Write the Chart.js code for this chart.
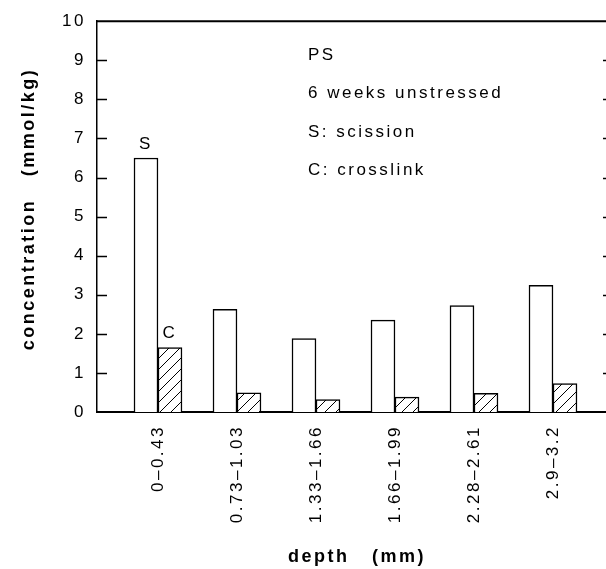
<!DOCTYPE html>
<html>
<head>
<meta charset="utf-8">
<script src="https://cdn.jsdelivr.net/npm/chart.js@4.4.0/dist/chart.umd.min.js"></script>
<style>
  html, body { margin: 0; padding: 0; background: #fff; }
</style>
</head>
<body>
<canvas id="chart" width="606" height="569"></canvas>
<script>
// depth bins (mm) and concentrations (mmol/kg)
const depthLabels = ['0\u20130.43', '0.73\u20131.03', '1.33\u20131.66', '1.66\u20131.99', '2.28\u20132.61', '2.9\u20133.2'];
const scission = [6.5, 2.63, 1.88, 2.35, 2.72, 3.24];
const crosslink = [1.65, 0.49, 0.32, 0.38, 0.48, 0.73];
const notes = ['PS', '6 weeks unstressed', 'S: scission', 'C: crosslink'];

const FONT = '"Liberation Sans", Arial, Helvetica, sans-serif';

function hatch() {
    const c = document.createElement('canvas');
    c.width = 11;
    c.height = 11;
    const g = c.getContext('2d');
    g.fillStyle = '#fff';
    g.fillRect(0, 0, 11, 11);
    g.strokeStyle = '#000';
    g.lineWidth = 1;
    g.beginPath();
    g.moveTo(0, 11); g.lineTo(11, 0);
    g.moveTo(-1, 1); g.lineTo(1, -1);
    g.moveTo(10, 12); g.lineTo(12, 10);
    g.stroke();
    return g.createPattern(c, 'repeat');
}

// the old plot uses wide letter spacing everywhere
const spacing = {
    id: 'spacing',
    beforeLayout(chart) { chart.ctx.letterSpacing = '2.5px'; },
    beforeDraw(chart) { chart.ctx.letterSpacing = '2.5px'; }
};

const frame = {
    id: 'frame',
    afterDraw(chart) {
        const { ctx, chartArea: a, scales: { x, y } } = chart;
        ctx.save();
        ctx.strokeStyle = '#000';
        ctx.lineWidth = 2;
        ctx.beginPath();
        ctx.moveTo(a.left, a.top);
        ctx.lineTo(a.right, a.top);
        ctx.stroke();

        // inward ticks on left, stubs on right
        ctx.lineWidth = 1.5;
        y.ticks.forEach(t => {
            if (t.value === 0 || t.value === 10) return;
            const py = Math.round(y.getPixelForValue(t.value)) + 0.5;
            ctx.beginPath();
            ctx.moveTo(a.left, py); ctx.lineTo(a.left + 10, py);
            ctx.moveTo(a.right - 3, py); ctx.lineTo(a.right, py);
            ctx.stroke();
        });

        ctx.fillStyle = '#000';
        ctx.letterSpacing = '2.5px';
        ctx.font = '17px ' + FONT;
        ctx.textBaseline = 'middle';
        ctx.textAlign = 'left';
        notes.forEach((n, i) => ctx.fillText(n, 308, 55 + i * 38.5));

        ctx.textAlign = 'center';
        ctx.fillText('S', x.getPixelForValue(1) - 12, y.getPixelForValue(scission[0]) - 14);
        ctx.fillText('C', x.getPixelForValue(1) + 12, y.getPixelForValue(crosslink[0]) - 14);

        ctx.font = 'bold 18px ' + FONT;
        ctx.letterSpacing = '2.5px';
        ctx.fillText('depth   (mm)', 357, 557);
        ctx.translate(29, 209);
        ctx.rotate(-Math.PI / 2);
        ctx.fillText('concentration   (mmol/kg)', 0, 0);
        ctx.restore();
    }
};

const ctx = document.getElementById('chart').getContext('2d');
const chart = new Chart(ctx, {
    type: 'bar',
    data: {
        datasets: [
            {
                label: 'S',
                data: scission.map((v, i) => ({ x: i + 1, y: v })),
                backgroundColor: '#fff',
                borderColor: '#000',
                borderWidth: 1.5,
                barThickness: 24
            },
            {
                label: 'C',
                data: crosslink.map((v, i) => ({ x: i + 1, y: v })),
                backgroundColor: hatch(),
                borderColor: '#000',
                borderWidth: 1.5,
                barThickness: 24
            }
        ]
    },
    options: {
        responsive: false,
        animation: false,
        layout: { padding: { top: 19, left: 0, right: 0, bottom: 0 } },
        plugins: { legend: { display: false }, tooltip: { enabled: false } },
        scales: {
            x: {
                type: 'linear',
                offset: false,
                min: 0.228,
                max: 6.671,
                afterBuildTicks: s => { s.ticks = depthLabels.map((_, i) => ({ value: i + 1 })); },
                afterFit: s => { s.height = 157; },
                grid: { display: false, drawTicks: false },
                border: { display: true, color: '#000', width: 2 },
                ticks: {
                    autoSkip: false,
                    minRotation: 90,
                    maxRotation: 90,
                    padding: 13,
                    color: '#000',
                    font: { family: FONT, size: 17 },
                    callback: v => depthLabels[v - 1]
                }
            },
            y: {
                min: 0,
                max: 10,
                afterFit: s => { s.width = 97; },
                grid: { display: false, drawTicks: false },
                border: { color: '#000', width: 1.5 },
                ticks: { stepSize: 1, padding: 11, color: '#000', font: { family: FONT, size: 17 } }
            }
        }
    },
    plugins: [spacing, frame]
});
</script>
</body>
</html>
